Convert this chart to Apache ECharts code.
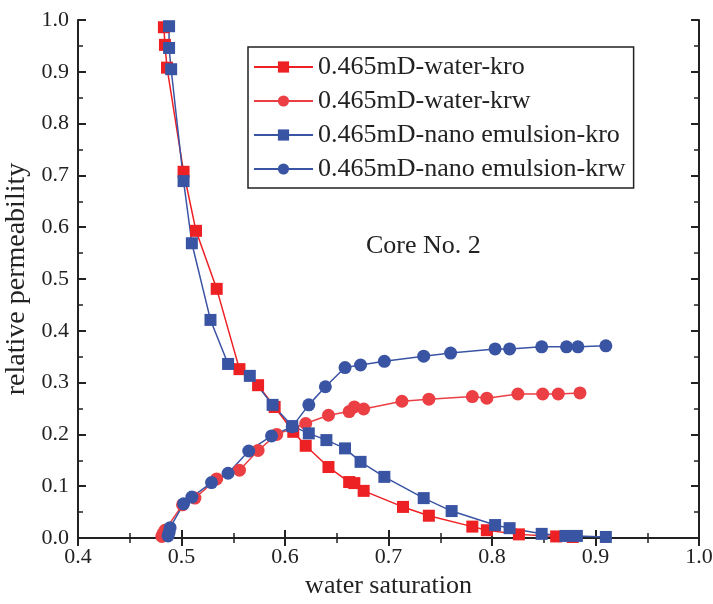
<!DOCTYPE html>
<html>
<head>
<meta charset="utf-8">
<script src="https://cdn.jsdelivr.net/npm/echarts@6/dist/echarts.min.js"></script>
<style>html,body{margin:0;padding:0;background:#fff}#c{width:713px;height:604px}</style>
</head>
<body>
<div id="c"></div>
<script>
// Data
var seriesNames = ['0.465mD-water-kro', '0.465mD-water-krw', '0.465mD-nano emulsion-kro', '0.465mD-nano emulsion-krw'];

var waterKroX = [0.483, 0.484, 0.486, 0.502, 0.514, 0.534, 0.556, 0.574, 0.590, 0.608, 0.620, 0.642, 0.662, 0.667, 0.676, 0.714, 0.739, 0.781, 0.795, 0.826, 0.862, 0.878];
var waterKroY = [0.986, 0.952, 0.908, 0.707, 0.593, 0.481, 0.326, 0.295, 0.253, 0.205, 0.178, 0.137, 0.108, 0.106, 0.091, 0.060, 0.043, 0.022, 0.015, 0.007, 0.003, 0.002];

var waterKrwX = [0.481, 0.482, 0.484, 0.501, 0.513, 0.534, 0.556, 0.574, 0.592, 0.620, 0.642, 0.662, 0.667, 0.676, 0.713, 0.739, 0.781, 0.795, 0.825, 0.849, 0.864, 0.885];
var waterKrwY = [0.003, 0.008, 0.015, 0.064, 0.077, 0.114, 0.131, 0.169, 0.200, 0.221, 0.237, 0.244, 0.253, 0.249, 0.264, 0.268, 0.273, 0.270, 0.278, 0.278, 0.278, 0.280];

var nanoKroX = [0.488, 0.488, 0.490, 0.502, 0.510, 0.528, 0.545, 0.566, 0.588, 0.607, 0.623, 0.640, 0.658, 0.673, 0.696, 0.734, 0.761, 0.803, 0.817, 0.848, 0.871, 0.882, 0.910];
var nanoKroY = [0.988, 0.946, 0.905, 0.689, 0.569, 0.421, 0.336, 0.313, 0.257, 0.216, 0.202, 0.189, 0.173, 0.147, 0.118, 0.077, 0.052, 0.025, 0.019, 0.008, 0.004, 0.004, 0.002];

var nanoKrwX = [0.487, 0.488, 0.489, 0.502, 0.510, 0.529, 0.545, 0.565, 0.587, 0.607, 0.623, 0.639, 0.658, 0.673, 0.696, 0.734, 0.760, 0.803, 0.817, 0.848, 0.872, 0.883, 0.910];
var nanoKrwY = [0.004, 0.011, 0.020, 0.066, 0.079, 0.107, 0.125, 0.168, 0.197, 0.215, 0.257, 0.292, 0.329, 0.334, 0.341, 0.351, 0.357, 0.365, 0.365, 0.369, 0.369, 0.369, 0.371];

var xTicks = [0.4, 0.5, 0.6, 0.7, 0.8, 0.9, 1.0];
var yTicks = [0.0, 0.1, 0.2, 0.3, 0.4, 0.5, 0.6, 0.7, 0.8, 0.9, 1.0];

function pairs(xs, ys) { return xs.map(function (x, i) { return [x, ys[i]]; }); }

var RED = '#ED2024', RED_C = '#EB3F44', BLUE = '#3A54A4';
var FONT = 'Liberation Serif';

var chart = echarts.init(document.getElementById('c'), null, { renderer: 'canvas' });

function axisCommon() {
  return {
    axisLine: { show: true, lineStyle: { color: '#222', width: 2 } },
    axisTick: { show: true, inside: true, length: 8, lineStyle: { color: '#222', width: 2 } },
    minorTick: { show: true, splitNumber: 2, length: 5, lineStyle: { color: '#222', width: 1.5 } },
    splitLine: { show: false },
    minorSplitLine: { show: false }
  };
}

var xMain = Object.assign(axisCommon(), {
  type: 'value', min: xTicks[0], max: xTicks[xTicks.length - 1], interval: 0.1, position: 'bottom',
  name: 'water saturation', nameLocation: 'middle', nameGap: 30,
  nameTextStyle: { fontFamily: FONT, fontSize: 26, color: '#222' },
  axisLabel: { fontFamily: FONT, fontSize: 22, color: '#222', margin: 8, formatter: function (v) { return v.toFixed(1); } }
});
var xTop = Object.assign(axisCommon(), {
  type: 'value', min: xTicks[0], max: xTicks[xTicks.length - 1], interval: 0.1, position: 'top',
  axisLabel: { show: false }
});
var yMain = Object.assign(axisCommon(), {
  type: 'value', min: yTicks[0], max: yTicks[yTicks.length - 1], interval: 0.1, position: 'left',
  name: 'relative permeability', nameLocation: 'middle', nameGap: 38,
  nameTextStyle: { fontFamily: FONT, fontSize: 28, color: '#222' },
  axisLabel: { fontFamily: FONT, fontSize: 22, color: '#222', margin: 9, formatter: function (v) { return v.toFixed(1); } }
});
var yRight = Object.assign(axisCommon(), {
  type: 'value', min: yTicks[0], max: yTicks[yTicks.length - 1], interval: 0.1, position: 'right',
  axisLabel: { show: false }
});

function mkSeries(name, data, symbol, color, size) {
  return {
    name: name, type: 'line', data: data, xAxisIndex: 0, yAxisIndex: 0,
    symbol: symbol, symbolSize: size, showSymbol: true,
    lineStyle: { color: color, width: 1.5 },
    itemStyle: { color: color },
    emphasis: { disabled: true },
    animation: false
  };
}

chart.setOption({
  animation: false,
  backgroundColor: '#fff',
  grid: { left: 78, right: 14, top: 20, bottom: 66, containLabel: false, outerBoundsMode: 'none' },
  xAxis: [xMain, xTop],
  yAxis: [yMain, yRight],
  legend: {
    orient: 'vertical', left: 248, top: 47,
    itemWidth: 59, itemHeight: 14, itemGap: 4,
    padding: [5, 8, 4, 5],
    borderColor: '#222', borderWidth: 1.5,
    textStyle: { fontFamily: FONT, fontSize: 26, color: '#222', lineHeight: 30 },
    data: seriesNames
  },
  graphic: [{
    type: 'text', left: 366, top: 233,
    style: { text: 'Core No. 2', fontFamily: FONT, fontSize: 26, fill: '#222' }
  }],
  series: [
    mkSeries(seriesNames[0], pairs(waterKroX, waterKroY), 'rect', RED, 12),
    mkSeries(seriesNames[1], pairs(waterKrwX, waterKrwY), 'circle', RED_C, 13),
    mkSeries(seriesNames[2], pairs(nanoKroX, nanoKroY), 'rect', BLUE, 12),
    mkSeries(seriesNames[3], pairs(nanoKrwX, nanoKrwY), 'circle', BLUE, 13)
  ]
});
</script>
</body>
</html>
